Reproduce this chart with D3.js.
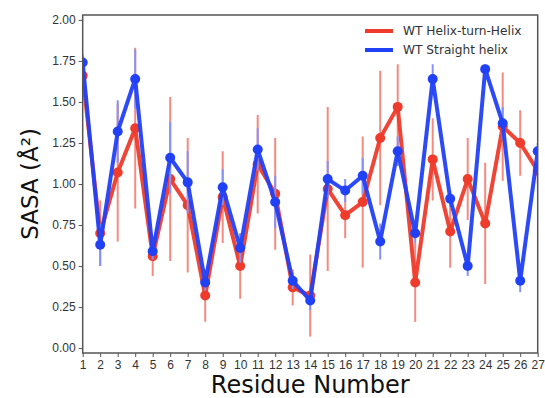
<!DOCTYPE html>
<html>
<head>
<meta charset="utf-8">
<script src="https://cdn.jsdelivr.net/npm/d3@7"></script>
<style>
  body { margin: 0; background: #fff; }
  svg { display: block; font-family: "DejaVu Sans", sans-serif; }
  .axis text { fill: #333; font-size: 12px; }
  .axis path, .axis line { stroke: #555; }
</style>
</head>
<body>
<svg id="chart" width="545" height="398"></svg>
<script>
// residue numbers along the helix
const residues = d3.range(1, 28);

// WT Helix-turn-Helix (red)
const htH = [1.66, 0.70, 1.07, 1.34, 0.56, 1.03, 0.87, 0.32, 0.92, 0.50, 1.12, 0.94, 0.37, 0.32,
    0.97, 0.81, 0.89, 1.28, 1.47, 0.40, 1.15, 0.71, 1.03, 0.76, 1.35, 1.25, 1.08];
const htHErr = [0.12, 0.20, 0.42, 0.49, 0.12, 0.50, 0.41, 0.16, 0.28, 0.20, 0.30, 0.34, 0.11, 0.25,
    0.50, 0.14, 0.40, 0.41, 0.26, 0.24, 0.25, 0.22, 0.25, 0.37, 0.33, 0.20, 0.08];

// WT Straight helix (blue)
const straight = [1.74, 0.63, 1.32, 1.64, 0.59, 1.16, 1.01, 0.40, 0.98, 0.61, 1.21, 0.89, 0.41, 0.29,
    1.03, 0.96, 1.05, 0.65, 1.20, 0.70, 1.64, 0.91, 0.50, 1.70, 1.37, 0.41, 1.20];
const straightErr = [0.05, 0.13, 0.19, 0.18, 0.05, 0.22, 0.19, 0.05, 0.11, 0.09, 0.13, 0.16, 0.05, 0.06,
    0.11, 0.07, 0.11, 0.11, 0.09, 0.06, 0.09, 0.05, 0.06, 0.03, 0.10, 0.07, 0.05];

const yTicks = [0, 0.25, 0.5, 0.75, 1.0, 1.25, 1.5, 1.75, 2.0];

const series = [
    { name: "WT Helix-turn-Helix", values: htH, err: htHErr, color: "#ee3b2b", errColor: "#f48a80" },
    { name: "WT Straight helix", values: straight, err: straightErr, color: "#2141f7", errColor: "#8592fa" }
];

const plotLeft = 82.7, plotRight = 537.7, plotTop = 15, plotBottom = 353;

const x = d3.scaleLinear().domain([1, 27]).range([plotLeft, plotRight]);
const y = d3.scaleLinear().domain([-0.03, 2.03]).range([plotBottom, plotTop]);

const svg = d3.select("#chart");

svg.append("defs").append("clipPath").attr("id", "clip")
    .append("rect")
    .attr("x", plotLeft).attr("y", plotTop)
    .attr("width", plotRight - plotLeft).attr("height", plotBottom - plotTop);

const plot = svg.append("g").attr("clip-path", "url(#clip)");

series.forEach(s => {
    // error bars
    plot.selectAll(null)
        .data(residues)
        .enter()
        .append("line")
        .attr("x1", (d) => x(d))
        .attr("x2", (d) => x(d))
        .attr("y1", (d, i) => y(s.values[i] - s.err[i]))
        .attr("y2", (d, i) => y(s.values[i] + s.err[i]))
        .attr("stroke", s.errColor)
        .attr("stroke-width", 2);

    const line = d3.line()
        .x((d) => x(d))
        .y((d, i) => y(s.values[i]));

    plot.append("path")
        .datum(residues)
        .attr("d", line)
        .attr("fill", "none")
        .attr("stroke", s.color)
        .attr("stroke-opacity", 0.95)
        .attr("stroke-width", 4)
        .attr("stroke-linejoin", "round");

    plot.selectAll(null)
        .data(residues)
        .enter()
        .append("circle")
        .attr("cx", (d) => x(d))
        .attr("cy", (d, i) => y(s.values[i]))
        .attr("r", 5)
        .attr("fill", s.color);
});

// frame
svg.append("rect")
    .attr("x", plotLeft).attr("y", plotTop)
    .attr("width", plotRight - plotLeft).attr("height", plotBottom - plotTop)
    .attr("fill", "none")
    .attr("stroke", "#555")
    .attr("stroke-width", 1.5);

// axes
svg.append("g").attr("class", "axis")
    .attr("transform", `translate(0,${plotBottom})`)
    .call(d3.axisBottom(x).tickValues(residues).tickFormat(d3.format("d")).tickSize(4).tickPadding(3))
    .call(g => g.select(".domain").remove());

svg.append("g").attr("class", "axis")
    .attr("transform", `translate(${plotLeft},0)`)
    .call(d3.axisLeft(y).tickValues(yTicks).tickFormat(d3.format(".2f")).tickSize(4).tickPadding(3))
    .call(g => g.select(".domain").remove());

// labels
svg.append("text")
    .attr("x", (plotLeft + plotRight) / 2)
    .attr("y", 393)
    .attr("text-anchor", "middle")
    .style("font-size", "24px")
    .attr("fill", "#111")
    .text("Residue Number");

svg.append("text")
    .attr("transform", `translate(38,${(plotTop + plotBottom) / 2}) rotate(-90)`)
    .attr("text-anchor", "middle")
    .style("font-size", "23px")
    .attr("fill", "#111")
    .text("SASA (Å²)");

// legend
const legend = svg.append("g");
series.forEach((s, i) => {
    const ly = 31 + i * 19;
    legend.append("line")
        .attr("x1", 365).attr("x2", 393)
        .attr("y1", ly).attr("y2", ly)
        .attr("stroke", s.color)
        .attr("stroke-width", 4);
    legend.append("text")
        .attr("x", 403)
        .attr("y", ly)
        .attr("dy", "0.35em")
        .style("font-size", "12.2px")
        .attr("fill", "#333")
        .text(s.name);
});
</script>
</body>
</html>
